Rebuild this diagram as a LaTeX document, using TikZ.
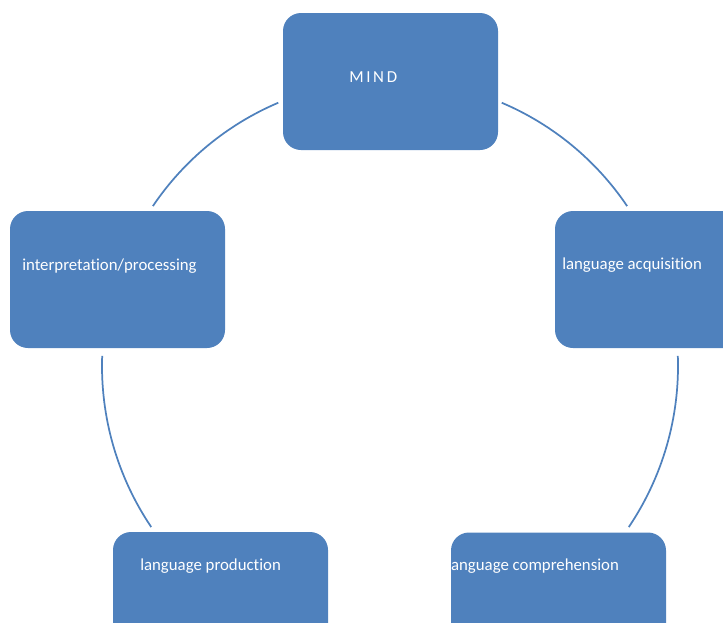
\documentclass[tikz,border=0pt]{standalone}
\usepackage{fontspec}
\setmainfont{Carlito}[Ligatures=NoCommon]
\definecolor{boxblue}{HTML}{4F81BD}

\begin{document}
\begin{tikzpicture}[x=0.75pt, y=0.75pt,
  blk/.style={fill=boxblue, rounded corners=13.5pt, minimum width=161.25pt, minimum height=102.75pt, inner sep=0pt},
  lbl/.style={text=white, anchor=base west, inner sep=0pt, font=\fontsize{12.6}{15}\selectfont},
  link/.style={draw=boxblue, line width=1.3pt}]
\clip (0,0) rectangle (723,-622);

\node[blk] (mind)   at (390.5,-81.5) {};
\node[blk] (interp) at (117.5,-279.5) {};
\node[blk] (acq)    at (662.5,-279.5) {};
\node[blk] (prod)   at (220.5,-600.5) {};
\node[blk] (comp)   at (558.5,-601) {};

\node[lbl] (mindtxt)   at (349,-82)  {\addfontfeatures{LetterSpace=16}MIND};
\node[lbl] (interptxt) at (22,-270)  {interpretation/processing};
\node[lbl] (acqtxt)    at (562,-269) {language acquisition};
\node[lbl] (prodtxt)   at (140,-570) {language production};
\node[lbl] (comptxt)   at (447,-570) {language comprehension};

% circle through the five boxes
\coordinate (hub) at (390,-366);
\draw[link] (hub) ++(113:286) arc[start angle=113, end angle=146, radius=286];
\draw[link] (hub) ++(67:286)  arc[start angle=67,  end angle=34,  radius=286];
\draw[link] (hub) ++(178:288) arc[start angle=178, end angle=214, radius=288];
\draw[link] (hub) ++(2:288)   arc[start angle=2,   end angle=-34, radius=288];
\end{tikzpicture}
\end{document}
